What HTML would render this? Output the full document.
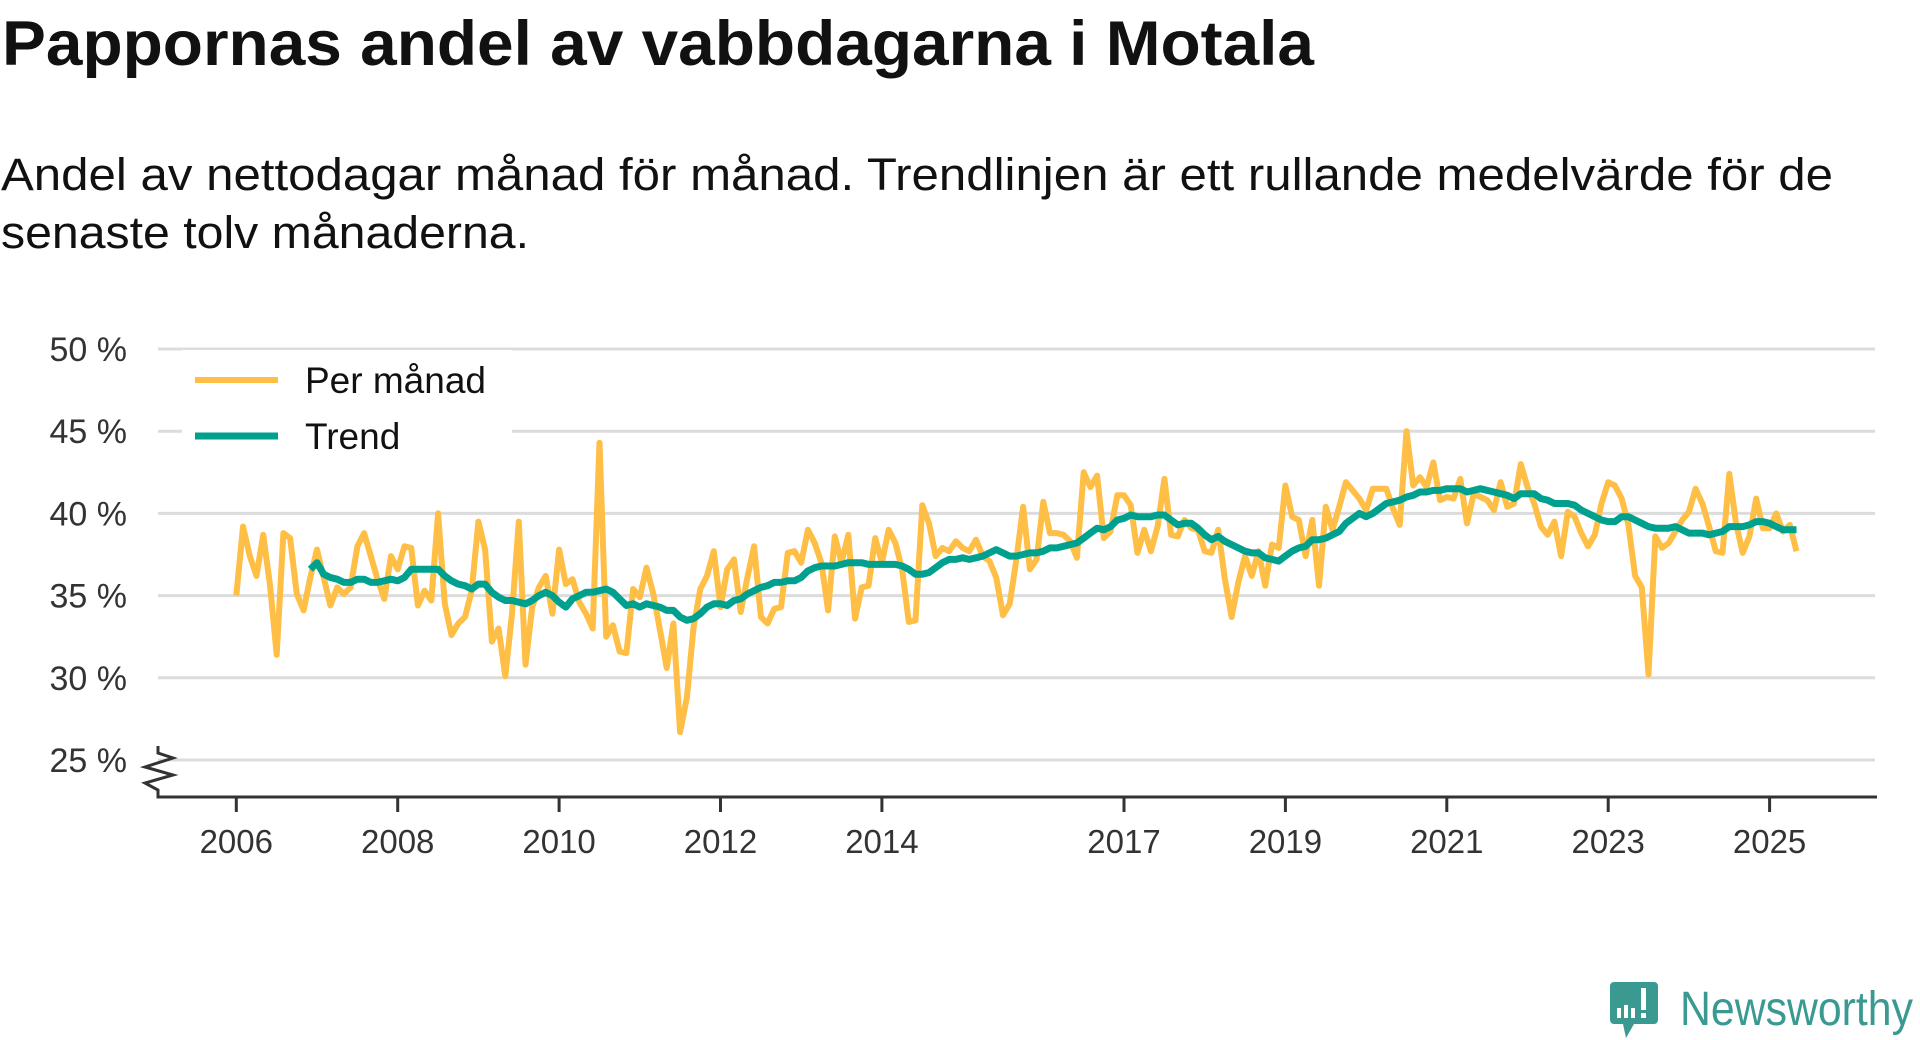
<!DOCTYPE html>
<html><head><meta charset="utf-8"><style>
html,body{margin:0;padding:0;background:#fff;width:1920px;height:1040px;overflow:hidden}
svg{display:block;font-family:"Liberation Sans",sans-serif}
</style></head><body>
<svg id="chart" width="1920" height="1040" viewBox="0 0 1920 1040">
<text x="2" y="65" font-size="63" font-weight="bold" fill="#111" textLength="1312" lengthAdjust="spacingAndGlyphs">Pappornas andel av vabbdagarna i Motala</text>
<text x="1" y="190" font-size="45" fill="#111" textLength="1832" lengthAdjust="spacingAndGlyphs">Andel av nettodagar månad för månad. Trendlinjen är ett rullande medelvärde för de</text>
<text x="1" y="248" font-size="45" fill="#111" textLength="528" lengthAdjust="spacingAndGlyphs">senaste tolv månaderna.</text>
<g id="grid"></g>
<g id="yaxis"></g>
<g id="xaxis"></g>
<g id="series"></g>
<g id="legend"></g>
<g>
<path d="M1614 982 h40 a4 4 0 0 1 4 4 v34 a4 4 0 0 1 -4 4 h-20 l-8 14 l-3 -14 h-9 a4 4 0 0 1 -4 -4 v-34 a4 4 0 0 1 4 -4z" fill="#3a9a92"/>
<rect x="1617" y="1008" width="4" height="10" fill="#fff"/><rect x="1624" y="1005" width="4" height="13" fill="#fff"/><rect x="1631" y="1008" width="4" height="10" fill="#fff"/><rect x="1641" y="988" width="5" height="22" fill="#fff"/><rect x="1641" y="1013" width="5" height="5" fill="#fff"/>
<text x="1680" y="1025" font-size="48" fill="#3a9a92" textLength="233" lengthAdjust="spacingAndGlyphs">Newsworthy</text>
</g>
</svg>
<script>
const yTicks=[25,30,35,40,45,50];
const yTickLabels=["25 %","30 %","35 %","40 %","45 %","50 %"];
const xTickYears=[2006,2008,2010,2012,2014,2017,2019,2021,2023,2025];
const startYear=2006;
const monthly=[35.0,39.2,37.4,36.2,38.7,35.7,31.4,38.8,38.5,35.1,34.1,36.1,37.8,36.1,34.4,35.5,35.1,35.5,38.0,38.8,37.4,36.0,34.8,37.4,36.6,38.0,37.9,34.4,35.3,34.7,40.0,34.5,32.6,33.3,33.7,35.3,39.5,37.8,32.2,33.0,30.1,33.9,39.5,30.8,34.3,35.5,36.2,33.9,37.8,35.7,36.0,34.6,33.9,33.0,44.3,32.5,33.2,31.6,31.5,35.4,34.9,36.7,35.1,32.9,30.6,33.3,26.7,28.8,33.1,35.4,36.2,37.7,34.3,36.6,37.2,34.0,36.1,38.0,33.7,33.3,34.2,34.3,37.6,37.7,37.0,39.0,38.2,37.0,34.1,38.6,37.0,38.7,33.6,35.5,35.6,38.5,37.0,39.0,38.2,36.6,33.4,33.5,40.5,39.4,37.4,37.9,37.7,38.3,37.9,37.7,38.4,37.4,37.1,36.1,33.8,34.5,37.2,40.4,36.6,37.2,40.7,38.8,38.8,38.7,38.3,37.3,42.5,41.6,42.3,38.5,38.9,41.1,41.1,40.5,37.6,39.0,37.7,39.2,42.1,38.7,38.6,39.6,39.1,39.0,37.7,37.6,39.0,36.0,33.7,35.8,37.4,36.2,37.7,35.6,38.1,37.9,41.7,39.8,39.6,37.4,39.6,35.6,40.4,39.0,40.4,41.9,41.4,40.9,40.2,41.5,41.5,41.5,40.3,39.3,45.0,41.7,42.2,41.6,43.1,40.8,41.0,40.9,42.1,39.4,41.2,41.0,40.8,40.2,41.9,40.4,40.6,43.0,41.6,40.6,39.2,38.7,39.5,37.4,40.1,39.8,38.8,38.0,38.7,40.6,41.9,41.7,40.9,39.3,36.2,35.5,30.2,38.6,37.9,38.2,38.9,39.6,40.1,41.5,40.6,39.2,37.7,37.6,42.4,39.4,37.6,38.6,40.9,39.1,39.1,40.0,38.9,39.3,37.7];
const trendStart=11;
const trend=[36.6,37.0,36.3,36.1,36.0,35.8,35.8,36.0,36.0,35.8,35.8,35.9,36.0,35.9,36.1,36.6,36.6,36.6,36.6,36.6,36.2,35.9,35.7,35.6,35.4,35.7,35.7,35.2,34.9,34.7,34.7,34.6,34.5,34.7,35.0,35.2,35.0,34.6,34.3,34.8,35.0,35.2,35.2,35.3,35.4,35.2,34.8,34.4,34.5,34.3,34.5,34.4,34.3,34.1,34.1,33.7,33.5,33.6,33.9,34.3,34.5,34.5,34.4,34.7,34.8,35.1,35.3,35.5,35.6,35.8,35.8,35.9,35.9,36.1,36.5,36.7,36.8,36.8,36.8,36.9,37.0,37.0,37.0,36.9,36.9,36.9,36.9,36.9,36.8,36.6,36.3,36.3,36.4,36.7,37.0,37.2,37.2,37.3,37.2,37.3,37.4,37.6,37.8,37.6,37.4,37.4,37.5,37.6,37.6,37.7,37.9,37.9,38.0,38.1,38.2,38.5,38.8,39.1,39.0,39.2,39.6,39.7,39.9,39.8,39.8,39.8,39.9,39.9,39.6,39.3,39.4,39.4,39.1,38.7,38.4,38.6,38.3,38.1,37.9,37.7,37.6,37.6,37.3,37.2,37.1,37.4,37.7,37.9,38.0,38.4,38.4,38.5,38.7,38.9,39.4,39.7,40.0,39.8,40.0,40.3,40.6,40.7,40.8,41.0,41.1,41.3,41.3,41.4,41.4,41.5,41.5,41.5,41.3,41.4,41.5,41.4,41.3,41.2,41.1,40.9,41.2,41.2,41.2,40.9,40.8,40.6,40.6,40.6,40.5,40.2,40.0,39.8,39.6,39.5,39.5,39.8,39.8,39.6,39.4,39.2,39.1,39.1,39.1,39.2,39.0,38.8,38.8,38.8,38.7,38.8,38.9,39.2,39.2,39.2,39.3,39.5,39.5,39.4,39.2,39.0,39.0,39.0];
const legendLabels=["Per månad","Trend"];

const NS="http://www.w3.org/2000/svg";
const X0=158,X1=1877,YAX=797;
const xYear=y=>236.3+(y-startYear)*80.7;
const xMonth=i=>236.3+i*80.7/12;
const yVal=v=>349+(50-v)*16.44;
function mk(tag,attrs,parent){const e=document.createElementNS(NS,tag);for(const k in attrs)e.setAttribute(k,attrs[k]);parent.appendChild(e);return e;}
const grid=document.getElementById('grid'),yax=document.getElementById('yaxis'),xax=document.getElementById('xaxis'),ser=document.getElementById('series'),leg=document.getElementById('legend');
yTicks.forEach((t,k)=>{
  const g=mk('line',{x1:X0,x2:X1-2,y1:yVal(t),y2:yVal(t),stroke:'#dcdcdc','stroke-width':3},grid);
  
  
  const tx=mk('text',{x:127,y:yVal(t)+12,'text-anchor':'end','font-size':34,fill:'#333'},yax);
  tx.textContent=yTickLabels[k];
  
  
});
const ax=mk('path',{d:`M158 746 V753 L173 758 L145 767 L173 775 L145 783 L158 790 V${YAX} H${X1}`,fill:'none',stroke:'#333','stroke-width':3},xax);


xTickYears.forEach(yr=>{
  const x=xYear(yr);
  const tk=mk('line',{x1:x,x2:x,y1:YAX,y2:812,stroke:'#333','stroke-width':3},xax);
  
  
  const tx=mk('text',{x:x,y:853,'text-anchor':'middle','font-size':33,fill:'#333'},xax);
  tx.textContent=yr;
  
  
});
const mp=monthly.map((v,i)=>(i?'L':'M')+xMonth(i).toFixed(1)+' '+yVal(v).toFixed(1)).join(' ');
const l1=mk('path',{d:mp,fill:'none',stroke:'#FFBE46','stroke-width':6,'stroke-linejoin':'round'},ser);


const tp=trend.map((v,i)=>(i?'L':'M')+xMonth(i+trendStart).toFixed(1)+' '+yVal(v).toFixed(1)).join(' ');
const l2=mk('path',{d:tp,fill:'none',stroke:'#00A08F','stroke-width':7,'stroke-linejoin':'round'},ser);


const bg=mk('rect',{x:182,y:350,width:330,height:108,fill:'#fff'},leg);


const colors=['#FFBE46','#00A08F'],widths=[6,7],ys=[380,436];
legendLabels.forEach((lab,k)=>{
  const ln=mk('line',{x1:195,x2:278,y1:ys[k],y2:ys[k],stroke:colors[k],'stroke-width':widths[k]},leg);
  
  
  const tx=mk('text',{x:305,y:ys[k]+13,'font-size':37,fill:'#111'},leg);
  tx.textContent=lab;
  
  
});
</script>
</body></html>
